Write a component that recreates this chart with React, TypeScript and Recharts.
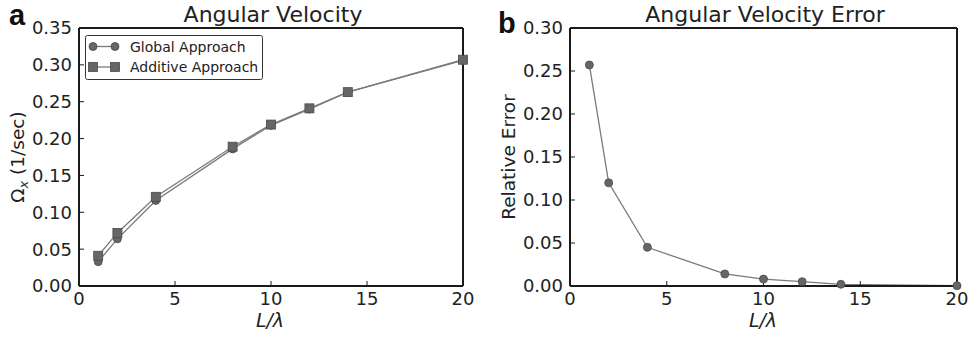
import React from "react";
import { LineChart, Line, XAxis, YAxis } from "recharts";

// L / lambda values sampled in both panels
const lengthRatio = [1, 2, 4, 8, 10, 12, 14, 20];
const globalOmega = [0.033, 0.064, 0.116, 0.186, 0.218, 0.24, 0.263, 0.306];
const additiveOmega = [0.041, 0.072, 0.121, 0.189, 0.219, 0.241, 0.263, 0.307];
const relativeError = [0.257, 0.12, 0.045, 0.014, 0.008, 0.005, 0.002, 0.0003];

const xTicks = [0, 5, 10, 15, 20];
const omegaTicks = [0, 0.05, 0.1, 0.15, 0.2, 0.25, 0.3, 0.35];
const errorTicks = [0, 0.05, 0.1, 0.15, 0.2, 0.25, 0.3];

const velocityData = lengthRatio.map((x, i) => ({
	x,
	global: globalOmega[i],
	additive: additiveOmega[i],
}));
const errorData = lengthRatio.map((x, i) => ({ x, error: relativeError[i] }));

const FONT = "'DejaVu Sans', sans-serif";
const AXIS = "#1a1a1a";
const LINE = "#7a7a7a";
const MARK = "#666666";
const MARK_EDGE = "#4a4a4a";

const tickStyle = { fill: "#222", fontSize: 18, fontFamily: FONT };
const fmt = (v: number) => v.toFixed(2);

const SquareDot = (props: any) => {
	const { cx, cy } = props;
	if (cx == null || cy == null) return null;
	return (
		<rect x={cx - 4.5} y={cy - 4.5} width={9} height={9} fill={MARK} stroke={MARK_EDGE} strokeWidth={0.8} />
	);
};

// legend drawn by hand, matplotlib style box in the upper left
const LegendBox = () => (
	<svg
		width={178}
		height={45}
		style={{ position: "absolute", left: 85, top: 35 }}
	>
		<rect x={0.5} y={0.5} width={177} height={44} rx={2} fill="#fff" stroke="#333" strokeWidth={1} />
		<line x1={8} x2={30} y1={11.5} y2={11.5} stroke={LINE} strokeWidth={1.3} />
		<circle cx={8} cy={11.5} r={4} fill={MARK} stroke={MARK_EDGE} strokeWidth={0.8} />
		<circle cx={30} cy={11.5} r={4} fill={MARK} stroke={MARK_EDGE} strokeWidth={0.8} />
		<text x={45} y={16.5} fill="#222" fontSize={14} fontFamily={FONT}>Global Approach</text>
		<line x1={8} x2={30} y1={32} y2={32} stroke={LINE} strokeWidth={1.3} />
		<rect x={3.5} y={27.5} width={9} height={9} fill={MARK} stroke={MARK_EDGE} strokeWidth={0.8} />
		<rect x={25.5} y={27.5} width={9} height={9} fill={MARK} stroke={MARK_EDGE} strokeWidth={0.8} />
		<text x={45} y={37} fill="#222" fontSize={14} fontFamily={FONT}>Additive Approach</text>
	</svg>
);

const frameAxes = (yTicks: number[], yMax: number) => [
	<XAxis
		key="xb"
		xAxisId="b"
		dataKey="x"
		type="number"
		domain={[0, 20]}
		ticks={xTicks}
		height={30}
		tickSize={-5}
		tickMargin={11}
		tick={tickStyle}
		axisLine={{ stroke: AXIS, strokeWidth: 2 }}
		tickLine={{ stroke: AXIS, strokeWidth: 1 }}
	/>,
	<XAxis
		key="xt"
		xAxisId="t"
		orientation="top"
		dataKey="x"
		type="number"
		domain={[0, 20]}
		ticks={xTicks}
		height={1}
		tickSize={-5}
		tick={false}
		axisLine={{ stroke: AXIS, strokeWidth: 2 }}
		tickLine={{ stroke: AXIS, strokeWidth: 1 }}
	/>,
	<YAxis
		key="yl"
		yAxisId="l"
		type="number"
		domain={[0, yMax]}
		ticks={yTicks}
		width={60}
		tickSize={-5}
		tickMargin={12}
		tickFormatter={fmt}
		tick={tickStyle}
		axisLine={{ stroke: AXIS, strokeWidth: 2 }}
		tickLine={{ stroke: AXIS, strokeWidth: 1 }}
	/>,
	<YAxis
		key="yr"
		yAxisId="r"
		orientation="right"
		type="number"
		domain={[0, yMax]}
		ticks={yTicks}
		width={1}
		tickSize={-5}
		tick={false}
		axisLine={{ stroke: AXIS, strokeWidth: 2 }}
		tickLine={{ stroke: AXIS, strokeWidth: 1 }}
	/>,
];

export default function App() {
	return (
		<div style={{ position: "absolute", left: 0, top: 0, width: 969, height: 337, background: "#fff" }}>
			<div style={{ position: "absolute", left: 0, top: 0 }}>
				<LineChart width={480} height={337} data={velocityData} margin={{ top: 27, right: 16, bottom: 21, left: 19 }}>
					{frameAxes(omegaTicks, 0.35)}
					<Line
						xAxisId="b"
						yAxisId="l"
						dataKey="global"
						name="Global Approach"
						stroke={LINE}
						strokeWidth={1.3}
						dot={{ r: 4, fill: MARK, stroke: MARK_EDGE, strokeWidth: 0.8 }}
						isAnimationActive={false}
					/>
					<Line
						xAxisId="b"
						yAxisId="l"
						dataKey="additive"
						name="Additive Approach"
						stroke={LINE}
						strokeWidth={1.3}
						dot={<SquareDot />}
						isAnimationActive={false}
					/>
				</LineChart>
				<LegendBox />
			</div>
			<div style={{ position: "absolute", left: 480, top: 0 }}>
				<LineChart width={489} height={337} data={errorData} margin={{ top: 27, right: 11, bottom: 21, left: 30 }}>
					{frameAxes(errorTicks, 0.3)}
					<Line
						xAxisId="b"
						yAxisId="l"
						dataKey="error"
						name="Relative Error"
						stroke={LINE}
						strokeWidth={1.3}
						dot={{ r: 4, fill: MARK, stroke: MARK_EDGE, strokeWidth: 0.8 }}
						isAnimationActive={false}
					/>
				</LineChart>
			</div>
			<svg
				width={969}
				height={337}
				style={{ position: "absolute", left: 0, top: 0, pointerEvents: "none" }}
				fontFamily={FONT}
			>
				<text x={9} y={25} fontSize={29} fontWeight="bold" fontFamily="'Liberation Sans', Arial, sans-serif" fill="#111">a</text>
				<text x={498} y={33} fontSize={29} fontWeight="bold" fontFamily="'Liberation Sans', Arial, sans-serif" fill="#111">b</text>
				<text x={273} y={21.5} fontSize={22} textAnchor="middle" fill="#222">Angular Velocity</text>
				<text x={765} y={21.5} fontSize={22} textAnchor="middle" fill="#222">Angular Velocity Error</text>
				<text x={270} y={327} fontSize={19} textAnchor="middle" fill="#222" fontStyle="italic">L/λ</text>
				<text x={763} y={327} fontSize={19} textAnchor="middle" fill="#222" fontStyle="italic">L/λ</text>
				<text transform="translate(24,157) rotate(-90)" fontSize={18.5} textAnchor="middle" fill="#222">
					Ω<tspan fontStyle="italic" fontSize={13} dy={4}>x</tspan>
					<tspan dy={-4}> (1/sec)</tspan>
				</text>
				<text transform="translate(515,157) rotate(-90)" fontSize={18.5} textAnchor="middle" fill="#222">Relative Error</text>
			</svg>
		</div>
	);
}
